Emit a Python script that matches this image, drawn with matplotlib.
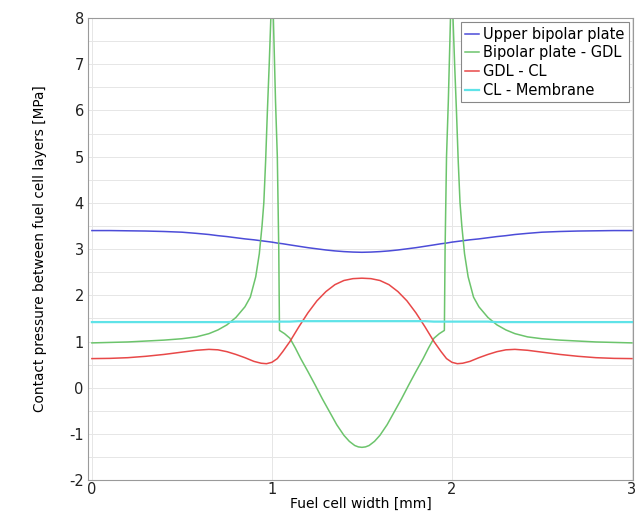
import matplotlib
matplotlib.use('Agg')
import matplotlib.pyplot as plt
from matplotlib.ticker import MultipleLocator

plt.rcParams['axes.unicode_minus'] = False

# x positions [mm] and contact pressures [MPa]
x_smooth = [0.0, 0.1, 0.2, 0.3, 0.4, 0.5, 0.58, 0.65, 0.7, 0.75, 0.8, 0.85, 0.9, 0.94,
            0.97, 1.0, 1.03, 1.06, 1.1, 1.15, 1.2, 1.25, 1.3, 1.35, 1.4, 1.45, 1.5,
            1.55, 1.6, 1.65, 1.7, 1.75, 1.8, 1.85, 1.9, 1.94, 1.97, 2.0, 2.03, 2.06,
            2.1, 2.15, 2.2, 2.25, 2.3, 2.35, 2.42, 2.5, 2.6, 2.7, 2.8, 2.9, 3.0]

upper_bp = [3.40, 3.40, 3.395, 3.39, 3.38, 3.365, 3.34, 3.315, 3.29, 3.27, 3.245, 3.22,
            3.20, 3.18, 3.165, 3.15, 3.13, 3.115, 3.09, 3.06, 3.03, 3.005, 2.98, 2.96,
            2.945, 2.935, 2.93,
            2.935, 2.945, 2.96, 2.98, 3.005, 3.03, 3.06, 3.09, 3.115, 3.13, 3.15, 3.165,
            3.18, 3.20, 3.22, 3.245, 3.27, 3.29, 3.315, 3.34, 3.365, 3.38, 3.39, 3.395,
            3.40, 3.40]

gdl_cl = [0.63, 0.635, 0.65, 0.68, 0.72, 0.77, 0.81, 0.83, 0.82, 0.78, 0.72, 0.65, 0.57,
          0.53, 0.52, 0.55, 0.63, 0.78, 1.0, 1.32, 1.62, 1.88, 2.08, 2.23, 2.32, 2.36, 2.37,
          2.36, 2.32, 2.23, 2.08, 1.88, 1.62, 1.32, 1.0, 0.78, 0.63, 0.55, 0.52, 0.53,
          0.57, 0.65, 0.72, 0.78, 0.82, 0.83, 0.81, 0.77, 0.72, 0.68, 0.65, 0.635, 0.63]

cl_mem = [1.42, 1.42, 1.42, 1.42, 1.42, 1.42, 1.42, 1.42, 1.42, 1.42,
          1.43, 1.43, 1.43, 1.43, 1.43, 1.43, 1.43, 1.43, 1.43,
          1.44, 1.44, 1.44, 1.44, 1.44, 1.44, 1.44, 1.44,
          1.44, 1.44, 1.44, 1.44, 1.44, 1.44, 1.44,
          1.43, 1.43, 1.43, 1.43, 1.43, 1.43, 1.43, 1.43, 1.43,
          1.42, 1.42, 1.42, 1.42, 1.42, 1.42, 1.42, 1.42, 1.42, 1.42]

x_green = [0.0, 0.1, 0.2, 0.3, 0.4, 0.5, 0.58, 0.65, 0.7, 0.75, 0.8, 0.85, 0.88, 0.91,
           0.93, 0.945, 0.955, 0.965, 0.975, 0.985, 0.994, 1.0, 1.008, 1.02, 1.03, 1.038,
           1.042, 1.07, 1.1, 1.13, 1.16, 1.2, 1.24, 1.28, 1.32, 1.36, 1.4, 1.43, 1.46,
           1.48, 1.5,
           1.52, 1.54, 1.57, 1.6, 1.64, 1.68, 1.72, 1.76, 1.8, 1.84, 1.87, 1.9, 1.93,
           1.958, 1.962, 1.97, 1.98, 1.992, 2.0, 2.006, 2.015, 2.025, 2.035, 2.045,
           2.055, 2.07, 2.09, 2.12, 2.15, 2.2, 2.25, 2.3, 2.35, 2.42, 2.5, 2.6, 2.7,
           2.8, 2.9, 3.0]

bp_gdl = [0.97, 0.98, 0.99, 1.01, 1.03, 1.06, 1.10, 1.17, 1.25, 1.36, 1.52, 1.75, 1.96,
          2.4, 2.9, 3.5, 4.0, 4.9, 6.0, 7.0, 8.0, 9.5, 8.0, 6.2, 5.0, 3.0, 1.24, 1.17,
          1.07, 0.86, 0.63, 0.35, 0.06, -0.24, -0.52, -0.80, -1.03, -1.16, -1.25, -1.28,
          -1.29,
          -1.28, -1.25, -1.16, -1.03, -0.80, -0.52, -0.24, 0.06, 0.35, 0.63, 0.86, 1.07,
          1.17, 1.24, 3.0, 5.0, 6.2, 8.0, 9.5, 8.0, 7.0, 6.0, 4.9, 4.0, 3.5, 2.9, 2.4,
          1.96, 1.75, 1.52, 1.36, 1.25, 1.17, 1.10, 1.06, 1.03, 1.01, 0.99, 0.98, 0.97]

fig = plt.figure(figsize=(6.42, 5.13), dpi=100)
ax = fig.add_axes([0.137, 0.064, 0.849, 0.901])

ax.plot(x_smooth, upper_bp, color='#4c4cd8', lw=1.1, label='Upper bipolar plate')
ax.plot(x_green, bp_gdl, color='#6cc46c', lw=1.1, label='Bipolar plate - GDL')
ax.plot(x_smooth, gdl_cl, color='#e84848', lw=1.1, label='GDL - CL')
ax.plot(x_smooth, cl_mem, color='#5fe3e8', lw=1.6, label='CL - Membrane')

ax.set_xlim(-0.022, 3.006)
ax.set_ylim(-2, 8)
ax.xaxis.set_major_locator(MultipleLocator(1))
ax.yaxis.set_major_locator(MultipleLocator(1))
ax.yaxis.set_minor_locator(MultipleLocator(0.5))
ax.grid(True, which='both', color='#e6e6e6', lw=0.7)
ax.set_axisbelow(True)
for s in ax.spines.values():
    s.set_color('#9a9a9a')
ax.tick_params(which='both', length=0, labelsize=10.5, colors='#222222', pad=3)
ax.tick_params(axis='x', pad=1)

ax.set_xlabel('Fuel cell width [mm]', fontsize=10, labelpad=0)
ax.set_ylabel('Contact pressure between fuel cell layers [MPa]', fontsize=9.8, labelpad=16)

leg = ax.legend(loc='upper right', fontsize=10.5, handlelength=0.9, handletextpad=0.3,
                borderpad=0.3, labelspacing=0.25, fancybox=False, framealpha=1,
                borderaxespad=0.3)
leg.get_frame().set_edgecolor('#888888')
leg.get_frame().set_linewidth(0.8)

fig.savefig('out.png', dpi=100)
